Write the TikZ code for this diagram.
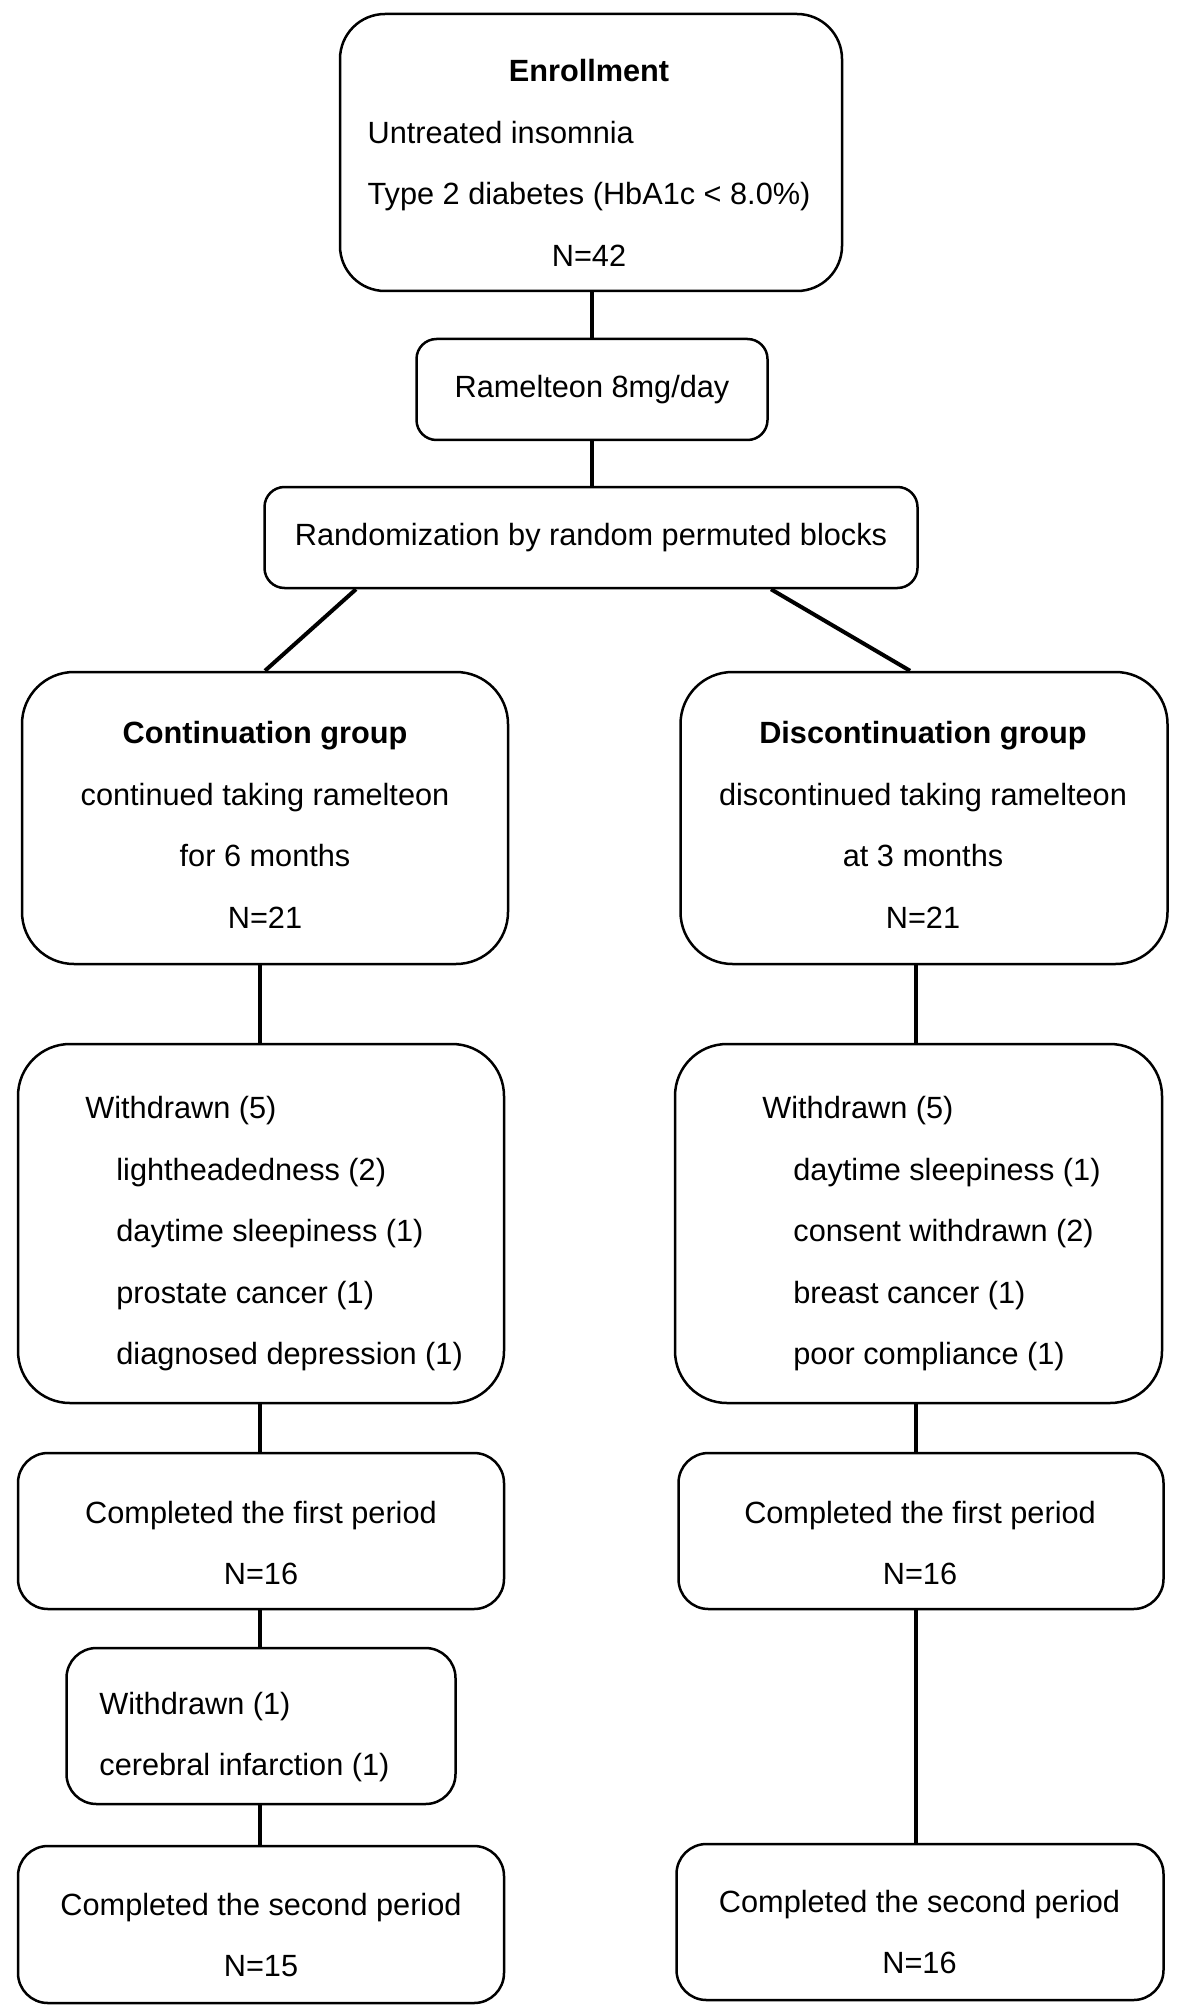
\documentclass[tikz,border=0pt]{standalone}
\usepackage{fontspec}
\setmainfont{Liberation Sans}
\usetikzlibrary{calc}
\begin{document}
\begin{tikzpicture}[x=0.5pt,y=-0.5pt,
  box/.style={draw=black, line width=1.25pt, fill=white, inner sep=0pt},
  txt/.style={inner sep=0pt, font=\fontsize{15.35pt}{30.75pt}\selectfont},
  conn/.style={draw=black, line width=2pt},
  connb/.style={draw=black, line width=2pt}]
\useasboundingbox (0,0) rectangle (1181,2016);
% boxes
\node[box, rounded corners=22.5pt, minimum width=251pt, minimum height=138.5pt] (enroll) at (591,152.5) {};
\node[box, txt, rounded corners=10pt, minimum width=175.5pt, minimum height=50.5pt] (ramel) at (592,389.5) {Ramelteon 8mg/day};
\node[box, txt, rounded corners=10pt, minimum width=326.5pt, minimum height=50.5pt] (random) at (591,537.5) {Randomization by random permuted blocks};
\node[box, rounded corners=26pt, minimum width=243pt, minimum height=146pt] (cont) at (265,818) {};
\node[box, rounded corners=26pt, minimum width=243.5pt, minimum height=146pt] (disc) at (924,818) {};
\node[box, rounded corners=26pt, minimum width=243pt, minimum height=179.5pt] (wl) at (261,1223.5) {};
\node[box, rounded corners=26pt, minimum width=243.5pt, minimum height=179.5pt] (wr) at (918.5,1223.5) {};
\node[box, rounded corners=15pt, minimum width=243pt, minimum height=78pt] (c1l) at (261,1531) {};
\node[box, rounded corners=15pt, minimum width=242.5pt, minimum height=78pt] (c1r) at (921,1531) {};
\node[box, rounded corners=15pt, minimum width=194.5pt, minimum height=78pt] (w1) at (261,1726) {};
\node[box, rounded corners=15pt, minimum width=243pt, minimum height=78.5pt] (c2l) at (261,1924.5) {};
\node[box, rounded corners=15pt, minimum width=243.5pt, minimum height=78pt] (c2r) at (920,1922) {};
% texts
\node[txt, align=center] (enrollT) at (589,163) {\textbf{Enrollment}\\\rlap{Untreated insomnia}\phantom{Type 2 diabetes (HbA1c < 8.0\%)}\\Type 2 diabetes (HbA1c < 8.0\%)\\N=42};
\node[txt, align=center] (contT) at (265,825) {\textbf{Continuation group}\\continued taking ramelteon\\for 6 months\\N=21};
\node[txt, align=center] (discT) at (923,825) {\textbf{Discontinuation group}\\discontinued taking ramelteon\\at 3 months\\N=21};
\node[txt, align=left, anchor=west] (wlT) at (85,1234) {Withdrawn (5)\\\hspace*{15.5pt}lightheadedness (2)\\\hspace*{15.5pt}daytime sleepiness (1)\\\hspace*{15.5pt}prostate cancer (1)\\\hspace*{15.5pt}diagnosed depression (1)};
\node[txt, align=left, anchor=west] (wrT) at (762,1234) {Withdrawn (5)\\\hspace*{15.5pt}daytime sleepiness (1)\\\hspace*{15.5pt}consent withdrawn (2)\\\hspace*{15.5pt}breast cancer (1)\\\hspace*{15.5pt}poor compliance (1)};
\node[txt, align=center] (c1lT) at (261,1543) {Completed the first period\\N=16};
\node[txt, align=center] (c1rT) at (920,1543) {Completed the first period\\N=16};
\node[txt, align=left, anchor=west] (w1T) at (99,1737) {Withdrawn (1)\\cerebral infarction (1)};
\node[txt, align=center] (c2lT) at (261,1935) {Completed the second period\\N=15};
\node[txt, align=center] (c2rT) at (919.5,1932) {Completed the second period\\N=16};
% connectors
\draw[conn] (enroll.south -| ramel.north) -- (ramel.north);
\draw[conn] (ramel.south) -- (ramel.south |- random.north);
\draw[conn] ($(random.south)+(-235,0)$) -- (cont.north);
\draw[conn] ($(random.south)+(180,0)$) -- ($(disc.north)+(-14,0)$);
\draw[connb] (cont.south -| 260,0) -- (wl.north -| 260,0);
\draw[connb] (disc.south -| 916,0) -- (wr.north -| 916,0);
\draw[connb] (wl.south -| 260,0) -- (c1l.north -| 260,0);
\draw[connb] (wr.south -| 916,0) -- (c1r.north -| 916,0);
\draw[connb] (c1l.south -| 260,0) -- (w1.north -| 260,0);
\draw[connb] (w1.south -| 260,0) -- (c2l.north -| 260,0);
\draw[connb] (c1r.south -| 916,0) -- (c2r.north -| 916,0);
\end{tikzpicture}
\end{document}
